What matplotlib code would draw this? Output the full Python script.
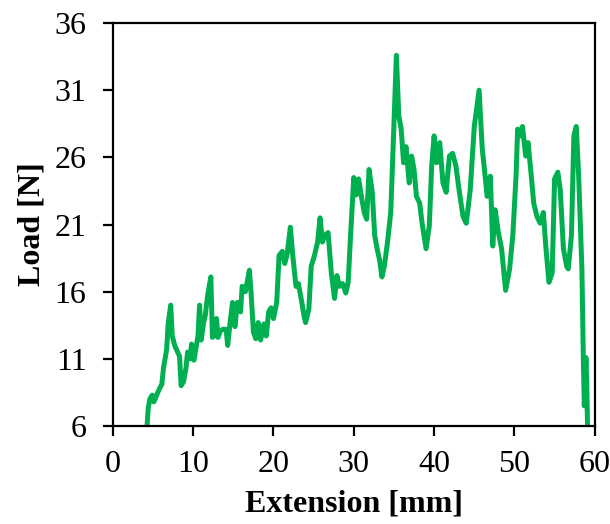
import numpy as np
import matplotlib.pyplot as plt

extension = [4.26, 4.4, 4.6, 4.9, 5.1, 5.4, 5.6, 5.9, 6.1, 6.3, 6.7, 6.9, 7.2, 7.4, 7.7,
             8.0, 8.3, 8.5, 8.8, 9.1, 9.3, 9.6, 9.8, 10.1, 10.4, 10.6, 10.8, 11.0, 11.3,
             11.5, 11.8, 12.2, 12.4, 12.6, 12.9, 13.1, 13.4, 13.7, 14.1, 14.3, 14.6, 14.9,
             15.2, 15.5, 15.9, 16.1, 16.5, 17.0, 17.2, 17.5, 17.8, 18.1, 18.4, 18.8, 19.1,
             19.4, 19.7, 20.0, 20.4, 20.7, 21.1, 21.4, 21.7, 22.1, 22.4, 22.8, 23.1, 23.5,
             23.8, 24.0, 24.4, 24.7, 25.1, 25.5, 25.8, 26.1, 26.4, 26.8, 27.2, 27.6, 27.9,
             28.2, 28.6, 29.0, 29.3, 29.6, 30.0, 30.3, 30.6, 31.0, 31.3, 31.6, 31.9, 32.3,
             32.6, 32.9, 33.2, 33.5, 33.8, 34.2, 34.6, 34.9, 35.3, 35.6, 35.9, 36.2, 36.5,
             36.9, 37.2, 37.5, 37.8, 38.2, 38.5, 39.0, 39.4, 39.7, 40.0, 40.3, 40.7, 41.1,
             41.5, 41.9, 42.3, 42.7, 43.1, 43.6, 44.0, 44.5, 45.0, 45.6, 46.0, 46.3, 46.6,
             47.0, 47.3, 47.6, 48.0, 48.4, 48.9, 49.4, 49.8, 50.2, 50.4, 50.8, 51.0, 51.4,
             51.7, 52.1, 52.4, 52.8, 53.2, 53.6, 53.9, 54.3, 54.7, 55.0, 55.4, 55.7, 56.1,
             56.5, 56.7, 57.1, 57.4, 57.7, 58.0, 58.4, 58.6, 58.7, 58.9, 59.0, 59.1]
load = [6.0, 7.3, 8.0, 8.3, 7.8, 8.2, 8.5, 8.9, 9.1, 10.3, 11.7, 13.7, 15.0, 12.7, 12.0,
        11.6, 11.2, 9.0, 9.3, 10.3, 11.5, 11.0, 12.1, 10.9, 12.0, 12.7, 15.0, 12.4, 13.7,
        14.2, 15.7, 17.1, 12.6, 12.7, 14.0, 12.6, 13.1, 13.2, 13.2, 12.0, 13.7, 15.2,
        13.4, 15.2, 14.5, 16.4, 16.0, 17.6, 16.0, 13.0, 12.5, 13.7, 12.4, 13.6, 12.7,
        14.5, 14.8, 14.0, 15.2, 18.7, 19.0, 18.1, 18.8, 20.8, 18.7, 16.4, 16.6, 15.3,
        14.2, 13.7, 14.7, 17.9, 18.7, 19.7, 21.5, 19.7, 20.2, 20.4, 17.4, 15.5, 17.2,
        16.4, 16.6, 15.9, 16.7, 20.2, 24.5, 23.2, 24.4, 22.9, 21.9, 21.4, 25.1, 23.4,
        20.2, 19.2, 18.4, 17.1, 17.9, 19.7, 21.9, 26.8, 33.6, 29.1, 28.1, 25.6, 26.8,
        24.1, 26.1, 25.1, 23.1, 22.6, 21.1, 19.2, 20.9, 25.4, 27.6, 25.6, 27.1, 24.1,
        23.4, 26.1, 26.3, 25.4, 23.6, 21.6, 21.1, 23.6, 28.3, 31.0, 26.6, 24.9, 23.1,
        24.6, 19.4, 22.1, 20.4, 19.2, 16.1, 17.7, 20.2, 24.6, 28.1, 27.6, 28.3, 26.1,
        27.1, 24.6, 22.6, 21.6, 21.1, 21.9, 19.4, 16.7, 17.4, 24.4, 24.9, 23.6, 19.2,
        17.9, 17.7, 20.2, 27.6, 28.3, 24.6, 17.7, 10.3, 7.5, 11.1, 9.3, 6.0]

x_ticks = np.arange(0, 61, 10)
y_ticks = np.arange(6, 37, 5)

plt.rcParams['font.family'] = ['Liberation Serif', 'DejaVu Serif']

fig = plt.figure(figsize=(6.1, 5.24), dpi=100)
ax = fig.add_axes([0.185, 0.187, 0.79, 0.769])

ax.plot(extension, load, color='#00B050', linewidth=3.6, solid_joinstyle='round')

ax.set_xlim(0, 60)
ax.set_ylim(6, 36)
ax.set_xticks(x_ticks)
ax.set_yticks(y_ticks)
ax.tick_params(direction='out', length=7, width=1.6, labelsize=23)
ax.tick_params(axis='y', pad=12)
ax.tick_params(axis='x', pad=10)
for s in ax.spines.values():
    s.set_linewidth(1.6)

ax.set_xlabel('Extension [mm]', fontsize=23, fontweight='bold', labelpad=8)
ax.set_ylabel('Load [N]', fontsize=23, fontweight='bold', labelpad=6)

fig.savefig('out.png', dpi=100)
